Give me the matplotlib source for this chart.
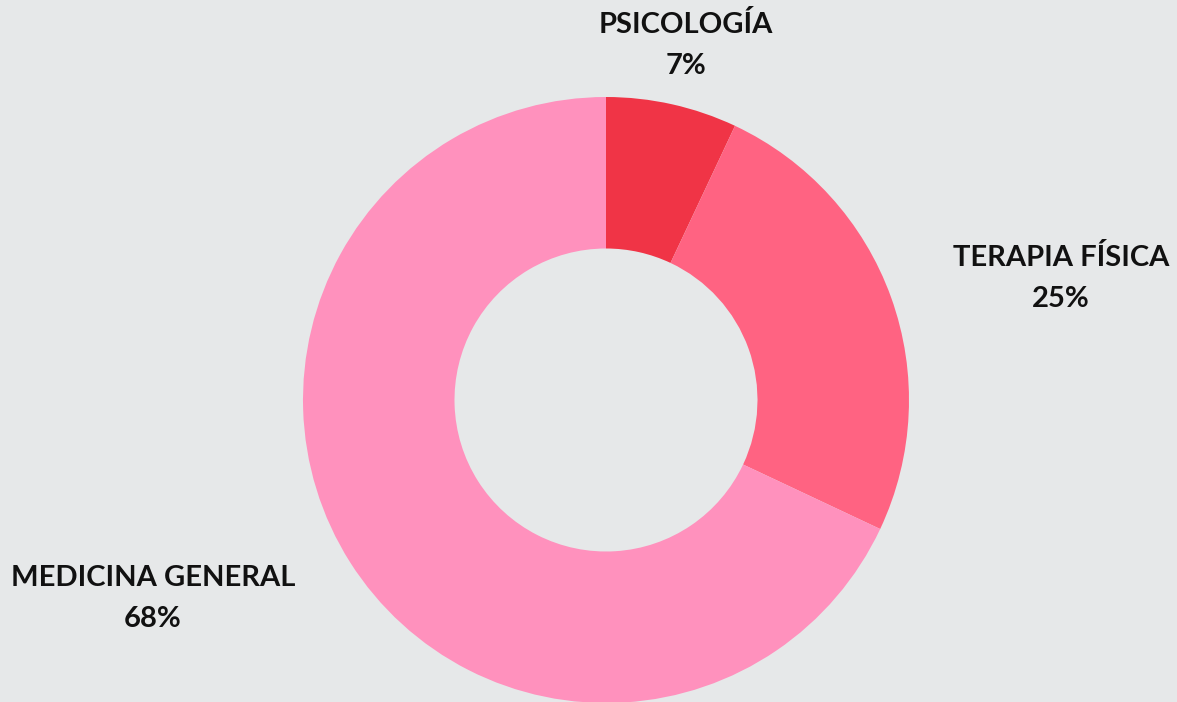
import matplotlib.pyplot as plt

# data
categories = ['PSICOLOGÍA', 'TERAPIA FÍSICA', 'MEDICINA GENERAL']
shares = [7, 25, 68]
colors = ['#F03446', '#FF6382', '#FF91BD']

# label baselines in pixel space (x centre, y from top)
label_pos = [(686, 33), (1061, 266), (153, 586)]

W, H = 1177, 702
fig = plt.figure(figsize=(W / 100, H / 100), dpi=100)
fig.patch.set_facecolor('#E6E8E9')
ax = fig.add_axes([0, 0, 1, 1])
ax.set_facecolor('#E6E8E9')

ax.pie(shares, colors=colors, startangle=90, counterclock=False,
       center=(606, H - 400), radius=303,
       wedgeprops=dict(width=303 * 0.5, linewidth=0))

font = ['Lato', 'DejaVu Sans']
for name, val, (x, y) in zip(categories, shares, label_pos):
    ax.text(x, H - y, name, ha='center', va='baseline', fontsize=21,
            fontweight='bold', family=font, color='#111111')
    ax.text(x, H - y - 41, f'{val}%', ha='center', va='baseline', fontsize=21,
            fontweight='bold', family=font, color='#111111')

ax.set_xlim(0, W)
ax.set_ylim(0, H)
ax.set_aspect('equal')
ax.axis('off')

plt.savefig('out.png', dpi=100, facecolor=fig.get_facecolor())
